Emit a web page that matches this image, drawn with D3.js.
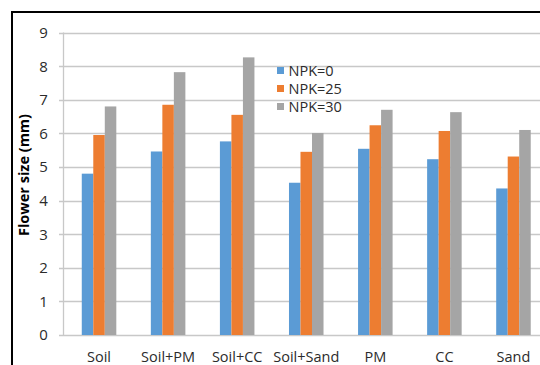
<!DOCTYPE html>
<html>
<head>
<meta charset="utf-8">
<script src="https://cdn.jsdelivr.net/npm/d3@7/dist/d3.min.js"></script>
<style>
  html, body { margin: 0; padding: 0; background: #fff; overflow: hidden; }
  svg { display: block; font-family: "Open Sans", sans-serif; }
</style>
</head>
<body>
<svg id="chart" width="540" height="365"></svg>
<script>
// Substrates tested
const categories = ["Soil", "Soil+PM", "Soil+CC", "Soil+Sand", "PM", "CC", "Sand"];
// Fertiliser levels
const seriesNames = ["NPK=0", "NPK=25", "NPK=30"];
// Mean flower size (mm) per substrate, one array per NPK level
const npk0  = [4.80, 5.46, 5.76, 4.53, 5.54, 5.23, 4.36];
const npk25 = [5.95, 6.85, 6.55, 5.45, 6.24, 6.07, 5.31];
const npk30 = [6.80, 7.82, 8.26, 6.01, 6.70, 6.63, 6.10];
const yTicks = [0, 1, 2, 3, 4, 5, 6, 7, 8, 9];
const colors = ["#5b9bd5", "#ed7d31", "#a5a5a5"];

const seriesValues = [npk0, npk25, npk30];
const svg = d3.select("#chart");
const textColor = "#2b2b2b";

// outer frame
svg.append("rect")
  .attr("x", 12).attr("y", 12)
  .attr("width", 700).attr("height", 700)
  .attr("fill", "none").attr("stroke", "#000").attr("stroke-width", 2);

const axisX = 63.5;
const y = d3.scaleLinear().domain([0, 9]).range([335, 32.5]);
const x0 = d3.scaleBand().domain(categories).range([64.5, 548])
  .paddingInner(0.5).paddingOuter(0.25);
const x1 = d3.scaleBand().domain(seriesNames).range([0, x0.bandwidth()]);

// horizontal gridlines with short ticks on the left
const grid = svg.append("g");
grid.selectAll("line").data(yTicks).enter().append("line")
  .attr("x1", 59).attr("x2", 560)
  .attr("y1", d => Math.round(y(d)) + 0.5).attr("y2", d => Math.round(y(d)) + 0.5)
  .attr("stroke", "#c8c8c8").attr("stroke-width", 1.3);

// vertical axis line
svg.append("line")
  .attr("x1", axisX).attr("x2", axisX)
  .attr("y1", y(9)).attr("y2", y(0) + 0.5)
  .attr("stroke", "#c8c8c8").attr("stroke-width", 1.3);

// y tick labels
svg.append("g").selectAll("text").data(yTicks).enter().append("text")
  .attr("x", 43.5).attr("y", d => y(d))
  .attr("dy", "0.36em")
  .attr("text-anchor", "middle")
  .attr("font-size", 15).attr("fill", textColor)
  .text(d => d);

// bars
const groups = svg.append("g").selectAll("g").data(categories).enter().append("g")
  .attr("transform", d => `translate(${x0(d)},0)`);
groups.selectAll("rect")
  .data((c, i) => seriesNames.map((s, j) => ({ s, j, v: seriesValues[j][i] })))
  .enter().append("rect")
  .attr("x", d => x1(d.s))
  .attr("width", x1.bandwidth())
  .attr("y", d => y(d.v))
  .attr("height", d => y(0) - y(d.v))
  .attr("fill", d => colors[d.j]);

// category labels
svg.append("g").selectAll("text").data(categories).enter().append("text")
  .attr("x", d => x0(d) + x0.bandwidth() / 2)
  .attr("y", 361.5)
  .attr("text-anchor", "middle")
  .attr("font-size", 14.5).attr("fill", textColor)
  .text(d => d);

// y axis title
svg.append("text")
  .attr("transform", "translate(28.5,175) rotate(-90)")
  .attr("text-anchor", "middle")
  .attr("font-size", 14.5).attr("font-weight", "bold").attr("fill", "#000")
  .text("Flower size (mm)");

// legend
const legend = svg.append("g").selectAll("g").data(seriesNames).enter().append("g")
  .attr("transform", (d, i) => `translate(277,${70.5 + i * 18})`);
legend.append("rect")
  .attr("x", 0).attr("y", -3.5).attr("width", 7).attr("height", 7)
  .attr("fill", (d, i) => colors[i]);
legend.append("text")
  .attr("x", 11.5).attr("y", 0).attr("dy", "0.36em")
  .attr("font-size", 14.5).attr("fill", textColor)
  .text(d => d);
</script>
</body>
</html>
